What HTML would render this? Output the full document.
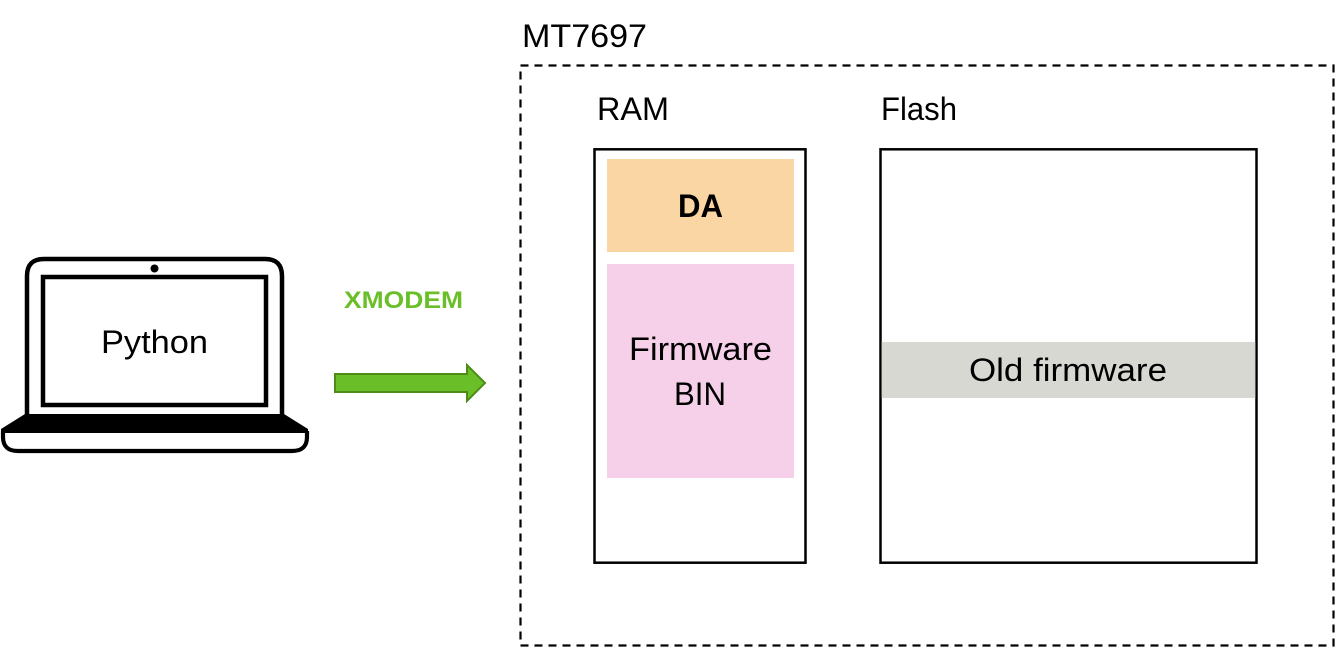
<!DOCTYPE html>
<html>
<head>
<meta charset="utf-8">
<style>
html,body{margin:0;padding:0;background:#fff;width:1335px;height:647px;overflow:hidden}
svg{display:block}
text{font-family:"Liberation Sans",sans-serif;fill:#000}
</style>
</head>
<body>
<svg width="1335" height="647" viewBox="0 0 1335 647" xmlns="http://www.w3.org/2000/svg">
  <rect x="520.5" y="65.5" width="813" height="580" fill="none" stroke="#000" stroke-width="2.2" stroke-dasharray="8 6"/>
  <text x="522" y="47" font-size="32" textLength="125" lengthAdjust="spacingAndGlyphs">MT7697</text>
  <text x="597" y="120" font-size="32" textLength="72" lengthAdjust="spacingAndGlyphs">RAM</text>
  <text x="881" y="120" font-size="32" textLength="76" lengthAdjust="spacingAndGlyphs">Flash</text>

  <rect x="594.5" y="149.3" width="211" height="413.4" fill="#fff" stroke="#000" stroke-width="2.5"/>
  <rect x="607" y="159" width="187" height="93" fill="#fbd6a5"/>
  <text x="678" y="217" font-size="32" font-weight="bold" textLength="45" lengthAdjust="spacingAndGlyphs">DA</text>
  <rect x="607" y="264" width="187" height="214" fill="#f6d0e8"/>
  <text x="629" y="360" font-size="32" textLength="143" lengthAdjust="spacingAndGlyphs">Firmware</text>
  <text x="674" y="405" font-size="32" textLength="52" lengthAdjust="spacingAndGlyphs">BIN</text>

  <rect x="880.5" y="149.3" width="376" height="413.4" fill="#fff" stroke="#000" stroke-width="2.5"/>
  <rect x="881.7" y="342" width="373.6" height="56" fill="#d8d8d3"/>
  <text x="969" y="381" font-size="32" textLength="198" lengthAdjust="spacingAndGlyphs">Old firmware</text>

  <text x="344" y="308" font-size="24.5" font-weight="bold" style="fill:#6abf28" textLength="119" lengthAdjust="spacingAndGlyphs">XMODEM</text>
  <polygon points="335,374 467,374 467,365 485,383 467,401 467,392 335,392" fill="#6abf28" stroke="#4e8c17" stroke-width="2"/>

  <path d="M27,416 V276 Q27,259 44,259 H265 Q282,259 282,276 V416" fill="none" stroke="#000" stroke-width="4.5"/>
  <circle cx="154.5" cy="268.5" r="4" fill="#000"/>
  <rect x="43" y="277" width="223" height="128" fill="none" stroke="#000" stroke-width="4.5"/>
  <polygon points="25,414 284,414 308,429 308,433 1,433 1,429" fill="#000"/>
  <path d="M3,431 V437 Q3,451 18,451 H292 Q307,451 307,437 V431" fill="none" stroke="#000" stroke-width="4.2"/>
  <text x="101" y="353" font-size="32" textLength="107" lengthAdjust="spacingAndGlyphs">Python</text>
</svg>
</body>
</html>
